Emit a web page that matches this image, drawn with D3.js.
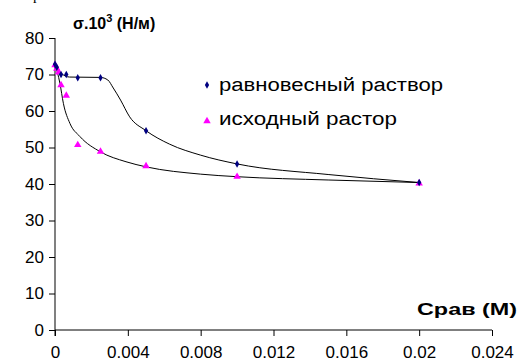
<!DOCTYPE html>
<html>
<head>
<meta charset="utf-8">
<script src="https://cdn.jsdelivr.net/npm/d3@7"></script>
<style>
  body { margin: 0; background: #fff; }
  svg { display: block; font-family: Arial, "Liberation Sans", sans-serif; }
</style>
</head>
<body>
<div class="chart"></div>
<script>
// measured points, equilibrium solution (diamonds)
var eqX = [0, 0.0001, 0.00033, 0.00062, 0.00125, 0.0025, 0.005, 0.01, 0.02];
var eqY = [72.8, 72.0, 70.0, 70.0, 69.1, 69.1, 54.6, 45.5, 40.4];
// measured points, initial solution (triangles)
var inX = [0, 0.0001, 0.0002, 0.00033, 0.00062, 0.00125, 0.0025, 0.005, 0.01, 0.02];
var inY = [72.6, 71.6, 70.6, 67.1, 64.2, 50.7, 48.9, 44.9, 42.0, 40.2];
// fitted curves
var eqCurveX = [0, 0.00033, 0.0008, 0.0025, 0.0029, 0.0032, 0.0036, 0.0041, 0.005, 0.0063, 0.008, 0.01, 0.015, 0.02];
var eqCurveY = [72.9, 70.4, 69.3, 69.2, 68.5, 66.3, 63.0, 58.4, 54.6, 50.9, 47.9, 45.5, 42.6, 40.4];
var inCurveX = [0, 0.00027, 0.00046, 0.00082, 0.00137, 0.0025, 0.0039, 0.005, 0.008, 0.01, 0.015, 0.02];
var inCurveY = [72.9, 67.6, 62.1, 56.6, 53.0, 48.8, 46.1, 44.7, 42.7, 42.0, 41.1, 40.4];
var xTicks = [0, 0.004, 0.008, 0.012, 0.016, 0.02, 0.024];
var yTicks = [0, 10, 20, 30, 40, 50, 60, 70, 80];
var legendNames = ["равновесный раствор", "исходный растор"];

var W = 520, H = 360;
var svg = d3.select(".chart").append("svg").attr("width", W).attr("height", H);

var x = d3.scaleLinear().domain([0, 0.024]).range([55, 492]);
var y = d3.scaleLinear().domain([0, 80]).range([330, 38]);

// clipped fragment of text above the figure
svg.append("text").attr("x", 33).attr("y", 0).attr("font-size", 15)
  .attr("font-family", "Times New Roman, Liberation Serif, serif").text("р");

// y axis
var yAxis = svg.append("g").attr("transform", "translate(55,0)")
  .call(d3.axisLeft(y).tickValues(yTicks).tickSize(6).tickPadding(5).tickFormat(d3.format("d")));
yAxis.select(".domain").attr("stroke", "#808080").attr("stroke-width", 2).attr("d", "M0," + y(80) + "V" + (y(0) + 6));
yAxis.selectAll(".tick line").attr("stroke", "#000");
yAxis.selectAll(".tick text").attr("font-size", 17).attr("font-family", "Arial, Liberation Sans, sans-serif").attr("fill", "#000");

// x axis
var xAxis = svg.append("g").attr("transform", "translate(0,330)")
  .call(d3.axisBottom(x).tickValues(xTicks).tickSize(6).tickPadding(4)
    .tickFormat(function (d) { return d === 0 ? "0" : String(+d.toFixed(3)); }));
xAxis.select(".domain").attr("stroke", "#000").attr("d", "M" + x(0) + ",0H" + x(0.024));
xAxis.selectAll(".tick line").attr("stroke", "#000");
xAxis.selectAll(".tick text").attr("font-size", 17).attr("font-family", "Arial, Liberation Sans, sans-serif")
  .attr("fill", "#000").attr("dy", "0.71em").attr("y", 16);

// curves
var line = d3.line().curve(d3.curveMonotoneX)
  .x(function (d) { return x(d[0]); })
  .y(function (d) { return y(d[1]); });
svg.append("path").datum(d3.zip(eqCurveX, eqCurveY)).attr("d", line)
  .attr("fill", "none").attr("stroke", "#000").attr("stroke-width", 1);
svg.append("path").datum(d3.zip(inCurveX, inCurveY)).attr("d", line)
  .attr("fill", "none").attr("stroke", "#000").attr("stroke-width", 1);

// markers
var tri = d3.symbol().type(d3.symbolTriangle).size(24);
var dia = d3.symbol().type(d3.symbolDiamond).size(16);
svg.selectAll(".tri").data(d3.zip(inX, inY)).enter().append("path")
  .attr("class", "tri").attr("d", tri)
  .attr("transform", function (d) { return "translate(" + x(d[0]) + "," + y(d[1]) + ")"; })
  .attr("fill", "#ff00ff");
svg.selectAll(".dia").data(d3.zip(eqX, eqY)).enter().append("path")
  .attr("class", "dia").attr("d", dia)
  .attr("transform", function (d) { return "translate(" + x(d[0]) + "," + y(d[1]) + ")"; })
  .attr("fill", "#000080");

// legend
var lg = svg.append("g");
lg.append("path").attr("d", dia).attr("transform", "translate(207,85)").attr("fill", "#000080");
lg.append("path").attr("d", tri).attr("transform", "translate(207,121)").attr("fill", "#ff00ff");
lg.selectAll("text").data(legendNames).enter().append("text")
  .attr("x", 219).attr("y", function (d, i) { return 91 + i * 34; })
  .attr("font-size", 18)
  .attr("textLength", function (d, i) { return i === 0 ? 224 : 178; })
  .attr("lengthAdjust", "spacingAndGlyphs")
  .text(function (d) { return d; });

// axis titles
var t = svg.append("text").attr("x", 73).attr("y", 29).attr("font-size", 16).attr("font-weight", "bold");
t.append("tspan").text("σ.10");
t.append("tspan").attr("font-size", 11).attr("dy", -7).text("3");
t.append("tspan").attr("dy", 7).text(" (Н/м)");
svg.append("text").attr("x", 417).attr("y", 315)
  .attr("font-size", 16).attr("font-weight", "bold")
  .attr("textLength", 100).attr("lengthAdjust", "spacingAndGlyphs").text("Срав (М)");
</script>
</body>
</html>
